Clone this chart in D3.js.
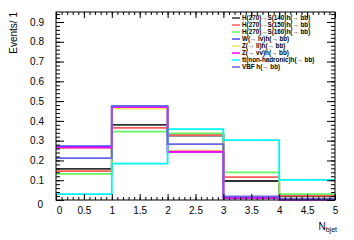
<!DOCTYPE html>
<html>
<head>
<meta charset="utf-8">
<script src="https://cdn.jsdelivr.net/npm/d3@7.9.0/dist/d3.min.js"></script>
<style>
  body { margin: 0; background: #fff; }
  svg { display: block; font-family: "Liberation Sans", Arial, sans-serif; }
</style>
</head>
<body>
<svg id="chart" width="354" height="240"></svg>
<script>
// bin edges of N_bjet
const binEdges = [0, 1, 2, 3, 4, 5];

const seriesNames = [
  'H(270)\u2192S(140)h(\u2192 bb)',
  'H(270)\u2192S(150)h(\u2192 bb)',
  'H(270)\u2192S(160)h(\u2192 bb)',
  'W(\u2192 l\u03bd)h(\u2192 bb)',
  'Z(\u2192 ll)h(\u2192 bb)',
  'Z(\u2192 \u03bd\u03bd)h(\u2192 bb)',
  'tt(non-hadronic)h(\u2192 bb)',
  'VBF h(\u2192 bb)',
];
const seriesColors = ['#333333', '#ff5c5c', '#66f566', '#4848ff', '#f2e85a', '#ff00ff', '#00f5f5', '#6666e6'];

const s140 = [0.157, 0.380, 0.326, 0.096, 0.018];
const s150 = [0.146, 0.365, 0.328, 0.116, 0.022];
const s160 = [0.132, 0.346, 0.337, 0.140, 0.030];
const wh = [0.272, 0.470, 0.244, 0.010, 0.002];
const zllh = [0.262, 0.462, 0.250, 0.016, 0.004];
const zvvh = [0.265, 0.470, 0.244, 0.011, 0.002];
const tth = [0.030, 0.184, 0.358, 0.303, 0.102];
const vbfh = [0.212, 0.476, 0.283, 0.018, 0.006];
const seriesValues = [s140, s150, s160, wh, zllh, zvvh, tth, vbfh];

const yTicks = [0, 0.1, 0.2, 0.3, 0.4, 0.5, 0.6, 0.7, 0.8, 0.9];
const xTicks = [0, 0.5, 1, 1.5, 2, 2.5, 3, 3.5, 4, 4.5, 5];

const svg = d3.select('#chart');
const m = { left: 56, right: 335, top: 12, bottom: 200 };

const x = d3.scaleLinear().domain([0, 5]).range([m.left, m.right]);
const y = d3.scaleLinear().domain([0, 0.9505]).range([m.bottom, m.top]);

// histograms as step outlines
seriesValues.forEach((vals, i) => {
  let pts = [];
  vals.forEach((v, b) => {
    pts.push([binEdges[b], v]);
    pts.push([binEdges[b + 1], v]);
  });
  let line = d3.line().x((d) => x(d[0])).y((d) => y(d[1]));
  svg.append('path')
    .attr('d', line(pts))
    .attr('fill', 'none')
    .attr('stroke', seriesColors[i])
    .attr('stroke-width', 1.8);
});

// frame
svg.append('rect')
  .attr('x', m.left).attr('y', m.top)
  .attr('width', m.right - m.left).attr('height', m.bottom - m.top)
  .attr('fill', 'none').attr('stroke', '#000').attr('stroke-width', 1);

const yMinor = d3.range(0, 0.951, 0.02).map((d) => +d.toFixed(2));
const xMinor = d3.range(0, 5.01, 0.1).map((d) => +d.toFixed(1));

function styleAxis(g) {
  g.select('.domain').remove();
  g.selectAll('line').attr('stroke', '#000');
  g.selectAll('text').attr('font-size', 10).attr('fill', '#000');
}

// left axis (ticks pointing into the frame)
svg.append('g').attr('transform', `translate(${m.left},0)`)
  .call(d3.axisLeft(y).tickValues(yTicks).tickSize(-8).tickPadding(12).tickFormat(d3.format('')))
  .call(styleAxis)
  .call((g) => g.selectAll('text').filter((d) => d === 0).attr('dy', '0.75em').attr('dx', '-1'));
svg.append('g').attr('transform', `translate(${m.left},0)`)
  .call(d3.axisLeft(y).tickValues(yMinor).tickSize(-4).tickFormat(''))
  .call(styleAxis);

// right axis
svg.append('g').attr('transform', `translate(${m.right},0)`)
  .call(d3.axisRight(y).tickValues(yTicks).tickSize(-8).tickFormat(''))
  .call(styleAxis);
svg.append('g').attr('transform', `translate(${m.right},0)`)
  .call(d3.axisRight(y).tickValues(yMinor).tickSize(-4).tickFormat(''))
  .call(styleAxis);

// bottom axis
svg.append('g').attr('transform', `translate(0,${m.bottom})`)
  .call(d3.axisBottom(x).tickValues(xTicks).tickSize(-6).tickPadding(7).tickFormat(d3.format('')))
  .call(styleAxis)
  .call((g) => g.selectAll('text').filter((d) => d === 0).attr('dx', '3'));
svg.append('g').attr('transform', `translate(0,${m.bottom})`)
  .call(d3.axisBottom(x).tickValues(xMinor).tickSize(-3).tickFormat(''))
  .call(styleAxis);

// top axis
svg.append('g').attr('transform', `translate(0,${m.top})`)
  .call(d3.axisTop(x).tickValues(xTicks).tickSize(-6).tickFormat(''))
  .call(styleAxis);
svg.append('g').attr('transform', `translate(0,${m.top})`)
  .call(d3.axisTop(x).tickValues(xMinor).tickSize(-3).tickFormat(''))
  .call(styleAxis);

// axis titles
svg.append('text')
  .attr('transform', `translate(17,${m.top}) rotate(-90)`)
  .attr('text-anchor', 'end')
  .attr('font-size', 10)
  .text('Events/ 1');

const xt = svg.append('text')
  .attr('x', m.right + 2).attr('y', 230)
  .attr('text-anchor', 'end')
  .attr('font-size', 10);
xt.append('tspan').text('N');
xt.append('tspan').attr('font-size', 7).attr('dy', 2).text('bjet');

// legend
const legend = svg.append('g');
seriesNames.forEach((name, i) => {
  let ly = 18 + i * 7;
  legend.append('line')
    .attr('x1', 232).attr('x2', 240)
    .attr('y1', ly).attr('y2', ly)
    .attr('stroke', seriesColors[i]).attr('stroke-width', 1.5);
  legend.append('text')
    .attr('x', 242).attr('y', ly + 2.2)
    .attr('font-size', 6.3).attr('font-weight', 'bold')
    .attr('fill', '#000')
    .text(name);
});
</script>
</body>
</html>
